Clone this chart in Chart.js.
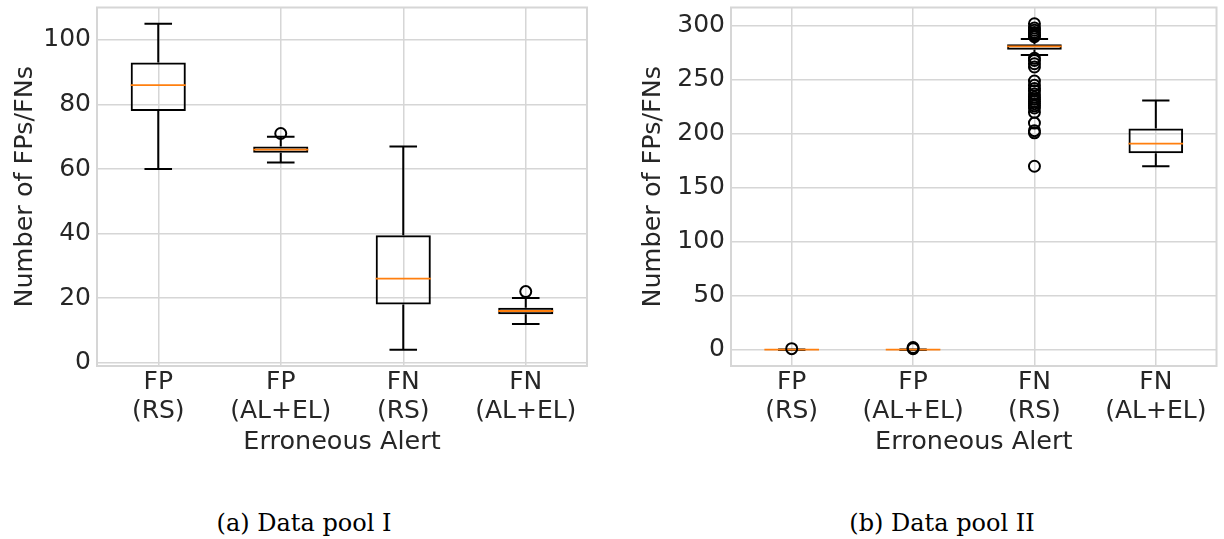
<!DOCTYPE html>
<html>
<head>
<meta charset="utf-8">
<title>Erroneous alerts per data pool</title>
<script src="https://cdn.jsdelivr.net/npm/chart.js@4.4.0/dist/chart.umd.min.js"></script>
<style>
  body { margin: 0; background: #fff; width: 1224px; height: 539px; position: relative; overflow: hidden; }
  canvas { position: absolute; top: 0; }
  #poolA { left: 0; }
  #poolB { left: 612px; }
  .caption {
    position: absolute; top: 509px; width: 400px; text-align: center;
    font-family: "DejaVu Serif", serif; font-size: 24px; line-height: 28px; color: #000;
  }
</style>
</head>
<body>
<canvas id="poolA" width="612" height="470"></canvas>
<canvas id="poolB" width="612" height="470"></canvas>
<div class="caption" style="left:104px">(a) Data pool I</div>
<div class="caption" style="left:742px">(b) Data pool II</div>
<script>
var categories = [['FP', '(RS)'], ['FP', '(AL+EL)'], ['FN', '(RS)'], ['FN', '(AL+EL)']];

// data pool I
var lowA = [60, 62, 4, 12];
var q1A = [78, 65, 18, 15];
var medianA = [86, 66, 26, 16];
var q3A = [93, 67, 39.5, 17];
var highA = [105, 70, 67, 20];
var fliersA = [[], [71], [], [22]];
var yTicksA = [0, 20, 40, 60, 80, 100];

// data pool II
var lowB = [0, 0, 273, 170];
var q1B = [0, 0, 278, 182];
var medianB = [0, 0, 281, 191];
var q3B = [0, 0, 283, 205];
var highB = [0, 0, 288, 231];
var fliersB = [
    [1],
    [1, 2],
    [302, 298, 296, 294, 292, 291, 290, 270, 268, 265, 262, 249, 245, 242, 240,
     237, 234, 232, 230, 228, 226, 224, 220, 210, 203, 201, 170],
    []
];
var yTicksB = [0, 50, 100, 150, 200, 250, 300];

var ink = '#262626';
var gridColor = '#d6d6d6';

// whiskers, caps and medians drawn on the chart's own scales
function boxPlotPlugin(s) {
    return {
        id: 'boxPlot',
        beforeDatasetsDraw: function (chart) {
            var ctx = chart.ctx, x = chart.scales.x, y = chart.scales.y, a = chart.chartArea;
            var step = x.width / categories.length;
            ctx.save();
            ctx.strokeStyle = gridColor;
            ctx.lineWidth = 2;
            ctx.strokeRect(a.left, a.top, a.right - a.left, a.bottom - a.top);
            ctx.strokeStyle = '#000';
            ctx.lineWidth = 2;
            s.low.forEach(function (lo, i) {
                var cx = x.getPixelForValue(i);
                [[lo, s.q1[i]], [s.high[i], s.q3[i]]].forEach(function (w) {
                    var yEnd = y.getPixelForValue(w[0]);
                    ctx.beginPath();
                    ctx.moveTo(cx, yEnd);
                    ctx.lineTo(cx, y.getPixelForValue(w[1]));
                    ctx.moveTo(cx - step * 0.1125, yEnd);
                    ctx.lineTo(cx + step * 0.1125, yEnd);
                    ctx.stroke();
                });
            });
            ctx.restore();
        },
        afterDatasetDraw: function (chart, args) {
            if (args.index !== 0) return;
            var ctx = chart.ctx, x = chart.scales.x, y = chart.scales.y;
            var step = x.width / categories.length;
            ctx.save();
            ctx.strokeStyle = '#ff7f0e';
            ctx.lineWidth = 1.8;
            s.median.forEach(function (m, i) {
                var cx = x.getPixelForValue(i), py = y.getPixelForValue(m);
                ctx.beginPath();
                ctx.moveTo(cx - step * 0.225, py);
                ctx.lineTo(cx + step * 0.225, py);
                ctx.stroke();
            });
            ctx.restore();
        }
    };
}

function createBoxChart(ctx, s, yTicks, yWidth, titlePad, padRight) {
    var all = s.low.concat(s.high);
    s.fliers.forEach(function (f) { all = all.concat(f); });
    var lo = Math.min.apply(null, all), hi = Math.max.apply(null, all);
    var margin = (hi - lo) * 0.05;

    var points = [];
    s.fliers.forEach(function (f, i) {
        f.forEach(function (v) { points.push({ x: i, y: v }); });
    });

    var font = { family: 'DejaVu Sans', size: 25, lineHeight: 1.16 };
    var titleFont = { family: 'DejaVu Sans', size: 25.5, lineHeight: 1.2 };

    return new Chart(ctx, {
        type: 'bar',
        data: {
            labels: categories,
            datasets: [{
                data: s.q1.map(function (v, i) { return [v, s.q3[i]]; }),
                backgroundColor: 'rgba(0,0,0,0)',
                borderColor: '#000',
                borderWidth: 2,
                borderSkipped: false,
                grouped: false,
                barPercentage: 0.45,
                categoryPercentage: 1,
                order: 1
            }, {
                type: 'scatter',
                data: points,
                xAxisID: 'xFlier',
                pointStyle: 'circle',
                pointRadius: 5.5,
                pointBorderWidth: 2,
                pointBorderColor: '#000',
                pointBackgroundColor: 'rgba(0,0,0,0)',
                order: 0
            }]
        },
        options: {
            responsive: false,
            animation: false,
            devicePixelRatio: 1,
            layout: { padding: { top: 6, right: padRight, left: 0, bottom: 0 } },
            plugins: { legend: { display: false }, tooltip: { enabled: false } },
            scales: {
                x: {
                    offset: true,
                    grid: { offset: false, color: gridColor, lineWidth: 1.5, drawTicks: false },
                    border: { display: false },
                    ticks: { color: ink, font: font, padding: 2, autoSkip: false, maxRotation: 0 },
                    title: { display: true, text: 'Erroneous Alert', color: ink, font: titleFont,
                             padding: { top: 0, bottom: 12 } },
                    afterFit: function (scale) {
                        scale.height = 104;
                        scale.paddingLeft = 0;
                        scale.paddingRight = 0;
                    }
                },
                xFlier: {
                    type: 'linear', display: false, offset: false,
                    min: -0.5, max: categories.length - 0.5
                },
                y: {
                    min: lo - margin,
                    max: hi + margin,
                    afterBuildTicks: function (scale) {
                        scale.ticks = yTicks.map(function (v) { return { value: v }; });
                    },
                    grid: { color: gridColor, lineWidth: 1.5, drawTicks: false },
                    border: { display: false },
                    ticks: { color: ink, font: font, padding: 6 },
                    title: { display: true, text: 'Number of FPs/FNs', color: ink, font: titleFont,
                             padding: { top: titlePad, bottom: 0 } },
                    afterFit: function (scale) {
                        scale.width = yWidth;
                        scale.paddingTop = 0;
                        scale.paddingBottom = 0;
                    }
                }
            }
        },
        plugins: [boxPlotPlugin(s)]
    });
}

createBoxChart(document.getElementById('poolA'),
    { low: lowA, q1: q1A, median: medianA, q3: q3A, high: highA, fliers: fliersA },
    yTicksA, 97, 10, 25);

createBoxChart(document.getElementById('poolB'),
    { low: lowB, q1: q1B, median: medianB, q3: q3B, high: highB, fliers: fliersB },
    yTicksB, 119, 26, 3);
</script>
</body>
</html>
